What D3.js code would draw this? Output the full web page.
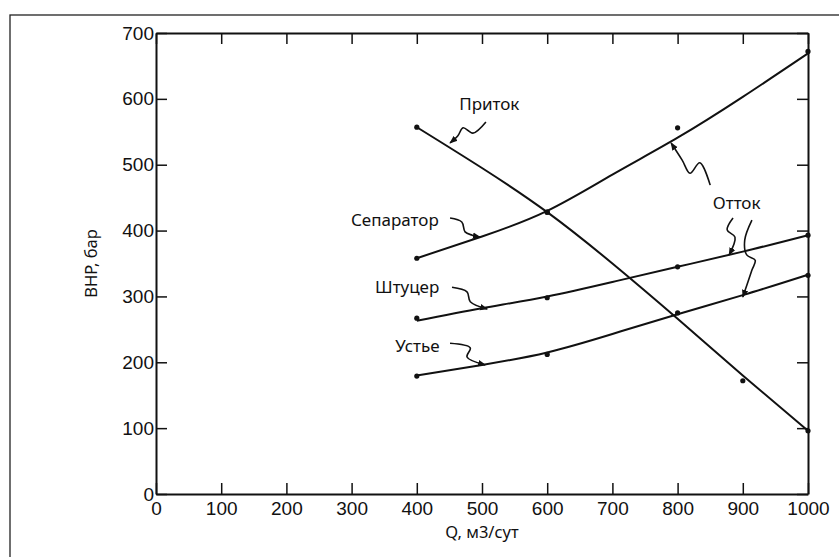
<!DOCTYPE html>
<html>
<head>
<meta charset="utf-8">
<script src="https://cdn.jsdelivr.net/npm/d3@7"></script>
<style>
  body { margin: 0; background: #fff; }
  svg { display: block; }
</style>
</head>
<body>
<svg id="chart" width="839" height="557"></svg>
<script>
// ---- данные ----
const xTicks = [0, 100, 200, 300, 400, 500, 600, 700, 800, 900, 1000];
const yTicks = [0, 100, 200, 300, 400, 500, 600, 700];

// сглаженные кривые (Q, ВНР)
const inflowQ   = [400, 500, 600, 700, 800, 900, 1000];
const inflowP   = [557, 495, 428, 350, 266, 180, 96];
const sepQ      = [400, 500, 600, 700, 800, 900, 1000];
const sepP      = [358, 391, 430, 485, 541, 603, 669];
const chokeQ    = [400, 500, 600, 700, 800, 900, 1000];
const chokeP    = [263, 282, 300, 322, 345, 368, 393];
const wellheadQ = [400, 500, 600, 700, 800, 900, 1000];
const wellheadP = [180, 196, 215, 243, 273, 302, 333];

// точки замеров
const inflowDotQ   = [400, 600, 900, 1000];
const inflowDotP   = [557, 428, 172, 96];
const sepDotQ      = [400, 600, 800, 1000];
const sepDotP      = [358, 428, 556, 672];
const chokeDotQ    = [400, 600, 800, 1000];
const chokeDotP    = [267, 298, 345, 393];
const wellheadDotQ = [400, 600, 800, 1000];
const wellheadDotP = [179, 212, 275, 332];

// подписи и волнистые стрелки (в единицах осей)
const labelNames = ["Приток", "Сепаратор", "Штуцер", "Устье", "Отток"];
const labelQ     = [465, 299, 336, 367, 854];
const labelP     = [583, 407, 305, 216, 433];
const arrows = [
    [[506, 565], [486, 548], [471, 556], [463, 544], [451, 533]],
    [[451, 419], [469, 413], [474, 398], [485, 393], [497, 390]],
    [[454, 314], [477, 307], [482, 292], [508, 281]],
    [[451, 229], [482, 222], [477, 208], [505, 196]],
    [[850, 469], [834, 503], [819, 487], [807, 507], [790, 533]],
    [[885, 419], [876, 401], [888, 390], [879, 363]],
    [[914, 416], [903, 386], [906, 363], [919, 355], [914, 340], [900, 299]]
];

const width = 839, height = 557;
const margin = { left: 156, right: 28, top: 33, bottom: 63 };

let svg = d3.select('#chart');

// внешняя рамка
svg.append('rect')
    .attr('x', 10).attr('y', 15)
    .attr('width', 900).attr('height', 600)
    .attr('fill', 'none')
    .attr('stroke', '#222')
    .attr('stroke-width', 1.3);

let x = d3.scaleLinear().domain([0, 1000]).range([margin.left, width - margin.right - 3]);
let y = d3.scaleLinear().domain([0, 700]).range([height - margin.bottom, margin.top]);

const tickFont = '"Liberation Sans", Arial, sans-serif';
const textFont = '"Noto Sans", "Open Sans", sans-serif';
const fmt = d3.format('d');

function styleAxis(g) {
    g.selectAll('path.domain').attr('stroke', '#111').attr('stroke-width', 2);
    g.selectAll('.tick line').attr('stroke', '#111').attr('stroke-width', 1.5);
    g.selectAll('.tick text').attr('fill', '#111').attr('font-family', tickFont).attr('font-size', 19);
}

// оси
svg.append('g')
    .attr('transform', `translate(0,${y(0)})`)
    .call(d3.axisBottom(x).tickValues(xTicks).tickFormat(fmt).tickSize(-11).tickSizeOuter(0).tickPadding(8))
    .call(styleAxis);

svg.append('g')
    .attr('transform', `translate(${x(0)},0)`)
    .call(d3.axisLeft(y).tickValues(yTicks).tickFormat(fmt).tickSize(-11).tickSizeOuter(0).tickPadding(2))
    .call(styleAxis);

svg.append('g')
    .attr('transform', `translate(0,${y(700)})`)
    .call(d3.axisTop(x).tickValues(xTicks).tickSize(-11).tickSizeOuter(0).tickFormat(''))
    .call(styleAxis);

svg.append('g')
    .attr('transform', `translate(${x(1000)},0)`)
    .call(d3.axisRight(y).tickValues(yTicks).tickSize(-11).tickSizeOuter(0).tickFormat(''))
    .call(styleAxis);

// подписи осей
svg.append('text')
    .attr('x', (x(0) + x(1000)) / 2)
    .attr('y', 538)
    .attr('text-anchor', 'middle')
    .attr('font-family', textFont)
    .attr('font-size', 16.5)
    .attr('fill', '#111')
    .text('Q, м3/сут');

svg.append('text')
    .attr('transform', `translate(97,${(y(0) + y(700)) / 2}) rotate(-90)`)
    .attr('text-anchor', 'middle')
    .attr('font-family', textFont)
    .attr('font-size', 16.5)
    .attr('fill', '#111')
    .text('ВНР, бар');

// кривые
let line = d3.line()
    .x(d => x(d[0]))
    .y(d => y(d[1]))
    .curve(d3.curveNatural);

let curves = [
    d3.zip(inflowQ, inflowP),
    d3.zip(sepQ, sepP),
    d3.zip(chokeQ, chokeP),
    d3.zip(wellheadQ, wellheadP)
];

svg.append('g')
    .selectAll('path')
    .data(curves)
    .join('path')
    .attr('d', line)
    .attr('fill', 'none')
    .attr('stroke', '#111')
    .attr('stroke-width', 2);

// точки
let dots = [].concat(
    d3.zip(inflowDotQ, inflowDotP),
    d3.zip(sepDotQ, sepDotP),
    d3.zip(chokeDotQ, chokeDotP),
    d3.zip(wellheadDotQ, wellheadDotP)
);

svg.append('g')
    .selectAll('circle')
    .data(dots)
    .join('circle')
    .attr('cx', d => x(d[0]))
    .attr('cy', d => y(d[1]))
    .attr('r', 2.6)
    .attr('fill', '#111');

// стрелки
svg.append('defs').append('marker')
    .attr('id', 'head')
    .attr('viewBox', '0 0 10 10')
    .attr('refX', 9).attr('refY', 5)
    .attr('markerWidth', 8).attr('markerHeight', 8)
    .attr('markerUnits', 'userSpaceOnUse')
    .attr('orient', 'auto')
    .append('path')
    .attr('d', 'M0,1L10,5L0,9z')
    .attr('fill', '#111');

let squiggle = d3.line()
    .x(d => x(d[0]))
    .y(d => y(d[1]))
    .curve(d3.curveCatmullRom.alpha(0.5));

svg.append('g')
    .selectAll('path')
    .data(arrows)
    .join('path')
    .attr('d', squiggle)
    .attr('fill', 'none')
    .attr('stroke', '#111')
    .attr('stroke-width', 1.6)
    .attr('marker-end', 'url(#head)');

// надписи
svg.append('g')
    .selectAll('text')
    .data(labelNames)
    .join('text')
    .attr('x', (d, i) => x(labelQ[i]))
    .attr('y', (d, i) => y(labelP[i]))
    .attr('font-family', textFont)
    .attr('font-size', 17)
    .attr('fill', '#111')
    .text(d => d);
</script>
</body>
</html>
